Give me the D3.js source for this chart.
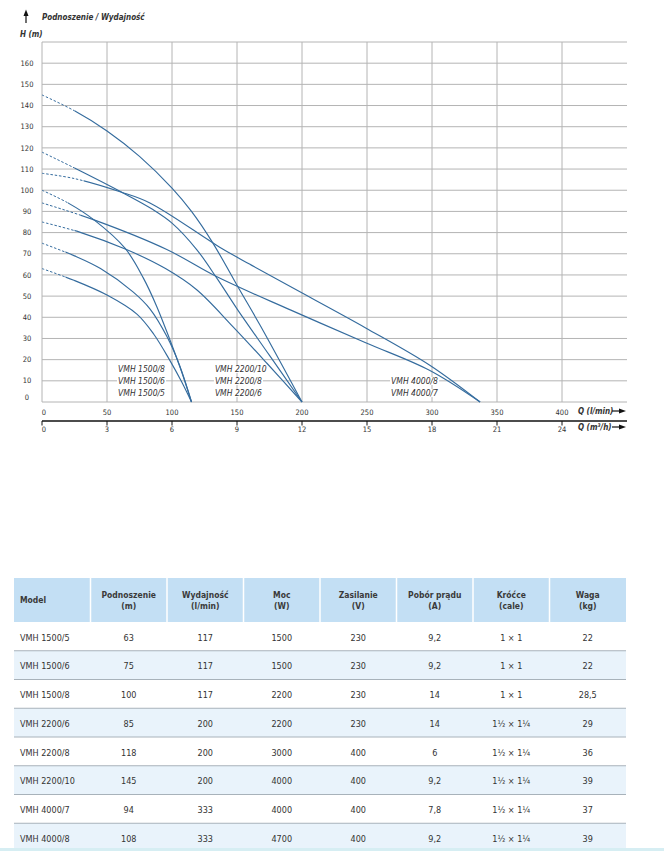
<!DOCTYPE html>
<html>
<head>
<meta charset="utf-8">
<script src="https://cdn.jsdelivr.net/npm/d3@7"></script>
<style>
  body { margin: 0; background: #fff; }
  text { font-family: "Liberation Sans Narrow", "DejaVu Sans Condensed", "Open Sans", sans-serif; }
</style>
</head>
<body>
<svg id="chart" width="664" height="851"></svg>
<script>
// Pump curves: [Q (l/min), H (m)]
var pts1500_5 = [[0, 63], [24, 57.6], [50, 50.5], [73, 41.5], [86, 32], [98, 20], [107, 10], [115, 0]];
var pts1500_6 = [[0, 75], [25, 69], [45, 63], [70, 52], [83, 44], [96, 31], [106, 17], [115, 0]];
var pts1500_8 = [[0, 100], [20, 94], [40, 86], [64, 72.5], [78, 58.5], [88, 45.5], [98, 30], [107, 15], [115, 0]];
var pts2200_6 = [[0, 85], [30, 80], [65, 72], [95, 63], [119, 53], [147, 35.5], [173, 18.3], [200, 0]];
var pts2200_8 = [[0, 118], [25, 110.5], [60, 99.5], [85, 91], [100, 84.5], [119, 72], [135, 58], [150, 44], [175, 22], [200, 0]];
var pts2200_10 = [[0, 145], [25, 137.5], [50, 128], [75, 116], [100, 101], [115, 90], [131, 75.5], [152, 53], [168, 36], [200, 0]];
var pts4000_7 = [[0, 94], [40, 86], [96, 72], [135, 59], [191, 43.5], [249, 28], [298, 15], [337, 0]];
var pts4000_8 = [[0, 108], [25, 105.5], [60, 99.3], [83, 94], [137, 73], [160, 65], [191, 54.5], [249, 35], [298, 17.5], [337, 0]];

var curveSeries = [pts1500_5, pts1500_6, pts1500_8, pts2200_6, pts2200_8, pts2200_10, pts4000_7, pts4000_8];
// dashed (extrapolated) part of each curve ends at this flow
var dashEnds = [18, 18, 20, 25, 25, 25, 30, 32];

// labels inside the plot
var labelGroup1 = ["VMH 1500/8", "VMH 1500/6", "VMH 1500/5"];
var labelGroup2 = ["VMH 2200/10", "VMH 2200/8", "VMH 2200/6"];
var labelGroup3 = ["", "VMH 4000/8", "VMH 4000/7"];

// ticks
var hTicks = [0, 10, 20, 30, 40, 50, 60, 70, 80, 90, 100, 110, 120, 130, 140, 150, 160];
var qTicks = [0, 50, 100, 150, 200, 250, 300, 350, 400];
var m3Ticks = [0, 3, 6, 9, 12, 15, 18, 21, 24];

// table
var colHeads1 = ["Model", "Podnoszenie", "Wydajność", "Moc", "Zasilanie", "Pobór prądu", "Króćce", "Waga"];
var colHeads2 = ["", "(m)", "(l/min)", "(W)", "(V)", "(A)", "(cale)", "(kg)"];
var models = ["VMH 1500/5", "VMH 1500/6", "VMH 1500/8", "VMH 2200/6", "VMH 2200/8", "VMH 2200/10", "VMH 4000/7", "VMH 4000/8"];
var headMax = ["63", "75", "100", "85", "118", "145", "94", "108"];
var flowMax = ["117", "117", "117", "200", "200", "200", "333", "333"];
var power = ["1500", "1500", "2200", "2200", "3000", "4000", "4000", "4700"];
var voltage = ["230", "230", "230", "230", "400", "400", "400", "400"];
var current = ["9,2", "9,2", "14", "14", "6", "9,2", "7,8", "9,2"];
var ports = ["1 × 1", "1 × 1", "1 × 1", "1½ × 1¼", "1½ × 1¼", "1½ × 1¼", "1½ × 1¼", "1½ × 1¼"];
var weight = ["22", "22", "28,5", "29", "36", "39", "37", "39"];

var svg = d3.select("#chart");

var x = d3.scaleLinear().domain([0, 450]).range([42, 627]);
var xm3 = d3.scaleLinear().domain([0, 27]).range([42, 627]);
var y = d3.scaleLinear().domain([0, 170]).range([402, 42]);

var gridColor = "#b4b4b4",
    lineColor = "#356c9e",
    textColor = "#333";

// grid
var grid = svg.append("g");
grid.selectAll(".h").data(hTicks.concat([170]))
  .enter().append("line")
  .attr("x1", x(0)).attr("x2", x(450))
  .attr("y1", function(d) { return y(d); })
  .attr("y2", function(d) { return y(d); })
  .attr("stroke", gridColor).attr("stroke-width", 1);
grid.selectAll(".v").data(qTicks)
  .enter().append("line")
  .attr("x1", function(d) { return x(d); })
  .attr("x2", function(d) { return x(d); })
  .attr("y1", y(0)).attr("y2", y(170))
  .attr("stroke", gridColor).attr("stroke-width", 1);

// y tick labels
svg.selectAll(".ylab").data(hTicks)
  .enter().append("text")
  .attr("x", 27)
  .attr("y", function(d) { return d == 0 ? y(0) - 5 : y(d); })
  .attr("dy", "0.35em")
  .attr("text-anchor", "middle")
  .attr("font-size", 7.5)
  .attr("fill", textColor)
  .text(function(d) { return d; });

// x tick labels (l/min)
svg.selectAll(".xlab").data(qTicks)
  .enter().append("text")
  .attr("x", function(d) { return d == 0 ? x(d) + 2 : x(d); })
  .attr("y", 412)
  .attr("dy", "0.35em")
  .attr("text-anchor", "middle")
  .attr("font-size", 7.5)
  .attr("fill", textColor)
  .text(function(d) { return d; });

// second axis (m3/h)
svg.append("line")
  .attr("x1", xm3(0)).attr("x2", xm3(27))
  .attr("y1", 421).attr("y2", 421)
  .attr("stroke", "#111").attr("stroke-width", 1.3);
svg.selectAll(".m3tick").data(m3Ticks)
  .enter().append("line")
  .attr("x1", function(d) { return xm3(d); })
  .attr("x2", function(d) { return xm3(d); })
  .attr("y1", 421).attr("y2", 425.5)
  .attr("stroke", "#111").attr("stroke-width", 1);
svg.selectAll(".m3lab").data(m3Ticks)
  .enter().append("text")
  .attr("x", function(d) { return d == 0 ? xm3(d) + 2 : xm3(d); })
  .attr("y", 429)
  .attr("dy", "0.35em")
  .attr("text-anchor", "middle")
  .attr("font-size", 7.5)
  .attr("fill", textColor)
  .text(function(d) { return d; });

// axis titles + arrows
function arrowRight(yy) {
  svg.append("line").attr("x1", 612).attr("x2", 620).attr("y1", yy).attr("y2", yy)
    .attr("stroke", "#111").attr("stroke-width", 1.2);
  svg.append("path").attr("d", "M619," + (yy - 2.5) + "L626," + yy + "L619," + (yy + 2.5) + "Z")
    .attr("fill", "#111");
}
svg.append("text").attr("x", 578).attr("y", 411).attr("dy", "0.35em")
  .attr("font-size", 8).attr("font-weight", "bold").attr("font-style", "italic")
  .attr("fill", textColor).text("Q (l/min)");
arrowRight(411);
var m3t = svg.append("text").attr("x", 578).attr("y", 427).attr("dy", "0.35em")
  .attr("font-size", 8).attr("font-weight", "bold").attr("font-style", "italic")
  .attr("fill", textColor);
m3t.append("tspan").text("Q (m");
m3t.append("tspan").attr("font-size", 5).attr("baseline-shift", "super").text("3");
m3t.append("tspan").text("/h)");
arrowRight(427);

svg.append("line").attr("x1", 26).attr("x2", 26).attr("y1", 15).attr("y2", 23)
  .attr("stroke", "#111").attr("stroke-width", 1.2);
svg.append("path").attr("d", "M23.5,16L26,9.5L28.5,16Z").attr("fill", "#111");
svg.append("text").attr("x", 42).attr("y", 17.5).attr("dy", "0.35em")
  .attr("font-size", 8).attr("font-weight", "bold").attr("font-style", "italic")
  .attr("fill", textColor).text("Podnoszenie / Wydajność");
svg.append("text").attr("x", 20).attr("y", 34.5).attr("dy", "0.35em")
  .attr("font-size", 8).attr("font-weight", "bold").attr("font-style", "italic")
  .attr("fill", textColor).text("H (m)");

// curve labels (drawn before curves, white box hides grid)
function labels(names, q) {
  var hs = [15.6, 9.9, 4.2];
  names.forEach(function(n, i) {
    if (!n) return;
    var t = svg.append("text")
      .attr("x", x(q)).attr("y", y(hs[i])).attr("dy", "0.35em")
      .attr("font-size", 8.5).attr("font-style", "italic")
      .attr("fill", textColor).text(n);
    var bb = t.node().getBBox();
    svg.insert("rect", "text")
      .attr("x", bb.x - 1).attr("y", bb.y + 1).attr("width", bb.width + 2).attr("height", bb.height - 2)
      .attr("fill", "#fff");
  });
}
labels(labelGroup1, 58.5);
labels(labelGroup2, 133);
labels(labelGroup3, 268.5);

// curves
var line = d3.line()
  .x(function(d) { return x(d[0]); })
  .y(function(d) { return y(d[1]); })
  .curve(d3.curveCatmullRom.alpha(0.5));

var defs = svg.append("defs");
curveSeries.forEach(function(pts, i) {
  var xe = x(dashEnds[i]);
  defs.append("clipPath").attr("id", "cd" + i)
    .append("rect").attr("x", 0).attr("y", 0).attr("width", xe).attr("height", 851);
  defs.append("clipPath").attr("id", "cs" + i)
    .append("rect").attr("x", xe).attr("y", 0).attr("width", 664 - xe).attr("height", 851);
  svg.append("path").datum(pts)
    .attr("d", line)
    .attr("fill", "none").attr("stroke", lineColor).attr("stroke-width", 1)
    .attr("stroke-dasharray", "2.5,1.8")
    .attr("clip-path", "url(#cd" + i + ")");
  svg.append("path").datum(pts)
    .attr("d", line)
    .attr("fill", "none").attr("stroke", lineColor).attr("stroke-width", 1.15)
    .attr("clip-path", "url(#cs" + i + ")");
});

// table
var col = d3.scaleBand().domain(colHeads1).range([14, 626]);
var row = d3.scaleBand().domain(models).range([622, 852]);
var tbl = svg.append("g");

tbl.append("rect").attr("x", 14).attr("y", 578).attr("width", 612).attr("height", 44)
  .attr("fill", "#c3dff4");
tbl.selectAll(".sep").data(colHeads1.slice(1))
  .enter().append("line")
  .attr("x1", function(d) { return col(d); })
  .attr("x2", function(d) { return col(d); })
  .attr("y1", 578).attr("y2", 622)
  .attr("stroke", "#fff").attr("stroke-width", 1.5);

colHeads1.forEach(function(h, i) {
  var first = i == 0;
  var t = tbl.append("text")
    .attr("x", first ? 20 : col(h) + col.bandwidth() / 2)
    .attr("text-anchor", first ? "start" : "middle")
    .attr("font-size", 8.5).attr("font-weight", "bold").attr("fill", "#3a3a3a");
  if (first) {
    t.attr("y", 600).attr("dy", "0.35em").text(h);
  } else {
    t.append("tspan").attr("x", col(h) + col.bandwidth() / 2).attr("y", 595.5).attr("dy", "0.35em").text(h);
    t.append("tspan").attr("x", col(h) + col.bandwidth() / 2).attr("y", 606.5).attr("dy", "0.35em").text(colHeads2[i]);
  }
});

var columns = [models, headMax, flowMax, power, voltage, current, ports, weight];
models.forEach(function(m, r) {
  var y0 = row(m);
  tbl.append("rect").attr("x", 14).attr("y", y0).attr("width", 612).attr("height", row.bandwidth())
    .attr("fill", r % 2 == 1 ? "#e9f3fb" : "#fff");
  if (r > 0) {
    tbl.append("line").attr("x1", 14).attr("x2", 626).attr("y1", y0).attr("y2", y0)
      .attr("stroke", "#a8b2ba").attr("stroke-width", 1);
  }
  columns.forEach(function(vals, c) {
    var first = c == 0;
    tbl.append("text")
      .attr("x", first ? 20 : col(colHeads1[c]) + col.bandwidth() / 2)
      .attr("y", y0 + row.bandwidth() / 2 + 1)
      .attr("dy", "0.35em")
      .attr("text-anchor", first ? "start" : "middle")
      .attr("font-size", 9).attr("fill", textColor)
      .text(vals[r]);
  });
});
tbl.append("rect").attr("x", 0).attr("y", 848).attr("width", 664).attr("height", 3)
  .attr("fill", "#d6eef3");
</script>
</body>
</html>
